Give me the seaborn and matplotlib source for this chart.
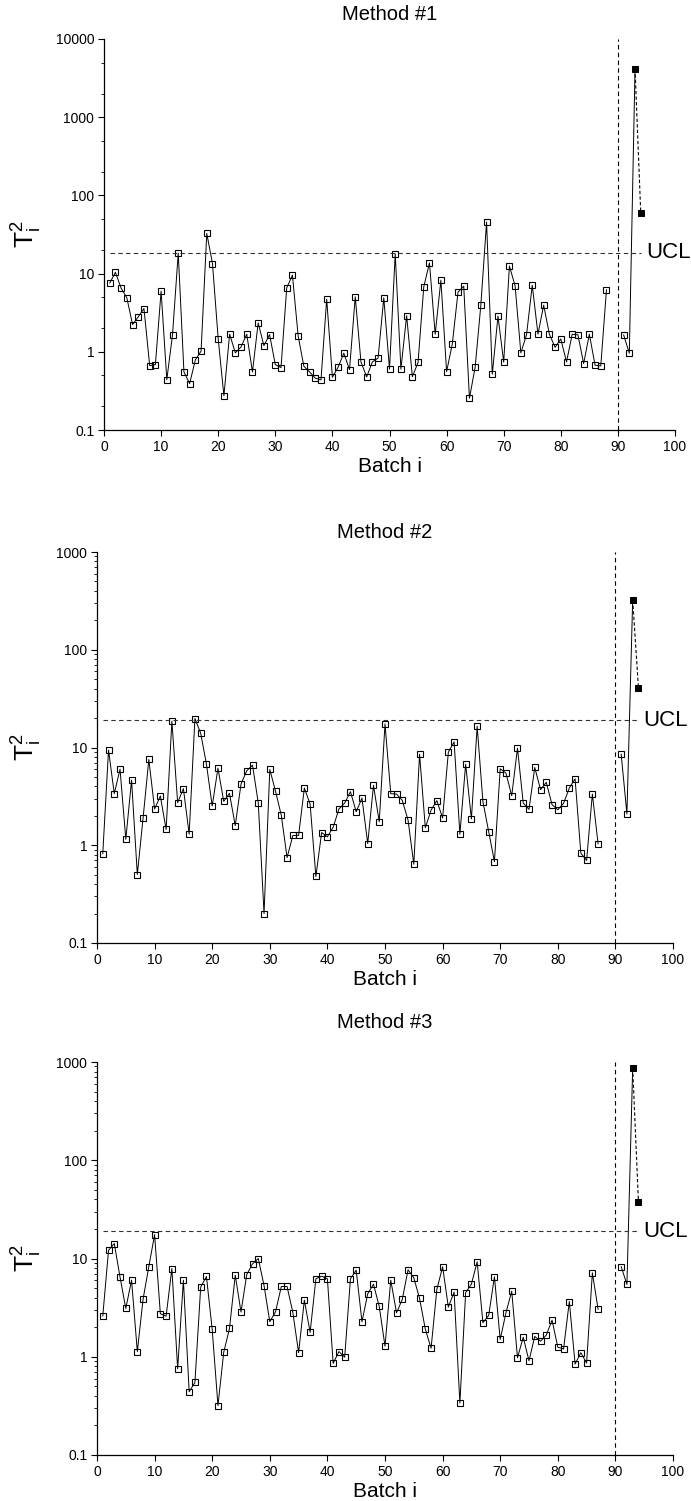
import numpy as np
import pandas as pd
import matplotlib
matplotlib.use("Agg")
import matplotlib.pyplot as plt
from matplotlib.ticker import LogLocator, FixedLocator, FixedFormatter, NullFormatter
import seaborn as sns

# ---------------- data ----------------
titles = ["Method #1", "Method #2", "Method #3"]

m1_values = [7.55, 10.4, 6.5, 4.9, 2.23, 2.8, 3.57, 0.666, 0.686, 5.97,
             0.44, 1.65, 18.3, 0.553, 0.392, 0.788, 1.02, 32.6, 13.4, 1.46,
             0.273, 1.68, 0.97, 1.155, 1.68, 0.553, 2.34, 1.2, 1.66, 0.686,
             0.628, 6.57, 9.55, 1.6, 0.654, 0.553, 0.46, 0.437, 4.71, 0.473,
             0.635, 0.96, 0.592, 5.05, 0.743, 0.477, 0.743, 0.83, 4.9, 0.6,
             17.9, 0.6, 2.9, 0.48, 0.73, 6.77, 13.7, 1.68, 8.24, 0.558,
             1.26, 5.8, 6.9, 0.255, 0.635, 3.98, 45.6, 0.517, 2.86, 0.736,
             12.5, 6.97, 0.97, 1.65, 7.1, 1.68, 3.95, 1.68, 1.14, 1.46,
             0.743, 1.68, 1.65, 0.707, 1.68, 0.673, 0.66, 6.25]
m2_values = [0.816, 9.4, 3.37, 6.0, 1.15, 4.64, 0.502, 1.9, 7.54, 2.35,
             3.19, 1.45, 18.6, 2.73, 3.79, 1.3, 19.8, 14.0, 6.76, 2.52,
             6.15, 2.81, 3.39, 1.59, 4.22, 5.78, 6.6, 2.7, 0.2, 5.96,
             3.56, 2.02, 0.748, 1.26, 1.26, 3.85, 2.64, 0.479, 1.35, 1.22,
             1.53, 2.35, 2.7, 3.53, 2.2, 3.04, 1.04, 4.1, 1.74, 17.4,
             3.37, 3.34, 2.88, 1.81, 0.64, 8.55, 1.51, 2.29, 2.86, 1.9,
             8.96, 11.4, 1.3, 6.76, 1.86, 16.5, 2.79, 1.38, 0.68, 6.06,
             5.47, 3.21, 9.84, 2.7, 2.33, 6.25, 3.7, 4.4, 2.6, 2.31,
             2.68, 3.85, 4.79, 0.83, 0.70, 3.34, 1.03]
m3_values = [2.59, 12.1, 14.2, 6.46, 3.1, 6.02, 1.13, 3.86, 8.29, 17.5,
             2.74, 2.59, 7.91, 0.755, 6.02, 0.44, 0.548, 5.11, 6.56, 1.9,
             0.318, 1.11, 1.94, 6.77, 2.85, 6.87, 8.83, 10.0, 5.31, 2.27,
             2.87, 5.19, 5.19, 2.82, 1.1, 3.77, 1.77, 6.21, 6.61, 6.21,
             0.855, 1.13, 0.99, 6.21, 7.61, 2.27, 4.37, 5.48, 3.25, 1.28,
             6.02, 2.8, 3.83, 7.67, 6.36, 3.92, 1.91, 1.22, 4.84, 8.23,
             3.2, 4.55, 0.338, 4.5, 5.48, 9.25, 2.22, 2.63, 6.51, 1.5,
             2.8, 4.65, 0.977, 1.58, 0.91, 1.61, 1.44, 1.66, 2.36, 1.25,
             1.2, 3.65, 0.842, 1.1, 0.86, 7.15, 3.03]

post_batches = [91, 92]
m1_post = [1.65, 0.96]
m2_post = [8.55, 2.09]
m3_post = [8.29, 5.44]

fault_batches = [93, 94]
m1_fault = [4170, 60]
m2_fault = [322, 41]
m3_fault = [869, 37.7]

ucl_values = [18.5, 19.0, 19.0]
fault_start = 90
y_max = [10000, 1000, 1000]
x_ticks = list(range(0, 101, 10))

values_all = [m1_values, m2_values, m3_values]
post_all = [m1_post, m2_post, m3_post]
fault_all = [m1_fault, m2_fault, m3_fault]

# ---------------- style ----------------
sns.set_style("ticks")
plt.rcParams["font.family"] = ["Liberation Sans", "DejaVu Sans"]
plt.rcParams["mathtext.fontset"] = "custom"
plt.rcParams["mathtext.rm"] = "Liberation Sans"
plt.rcParams["mathtext.it"] = "Liberation Sans"
for key in ["text.color", "axes.labelcolor", "xtick.color", "ytick.color"]:
    plt.rcParams[key] = "black"

W, H = 691, 1501
fig = plt.figure(figsize=(W / 100, H / 100), dpi=100)

# axes boxes in pixels: left, top, right, bottom ; title centre in pixels
boxes = [(104, 39, 675, 430), (97, 552, 673, 943), (97, 1062, 673, 1455)]
title_px = [14, 532, 1022]

for i in range(3):
    l, t, r, b = boxes[i]
    ax = fig.add_axes([l / W, 1 - b / H, (r - l) / W, (b - t) / H])
    vals = values_all[i]
    df = pd.DataFrame({"batch": np.arange(1, len(vals) + 1), "T2": vals})

    lw = 0.7
    # in-control batches
    sns.lineplot(data=df, x="batch", y="T2", ax=ax, color="black", lw=lw,
                 marker="s", markersize=4.2, markerfacecolor="none",
                 markeredgecolor="black", markeredgewidth=0.8)
    # new batches after the vertical line
    seg = pd.DataFrame({"batch": post_batches + [fault_batches[0]],
                        "T2": post_all[i] + [fault_all[i][0]]})
    sns.lineplot(data=seg, x="batch", y="T2", ax=ax, color="black", lw=lw)
    sns.lineplot(x=post_batches, y=post_all[i], ax=ax, color="black", lw=0,
                 marker="s", markersize=4.2, markerfacecolor="none",
                 markeredgecolor="black", markeredgewidth=0.8)
    sns.lineplot(x=fault_batches, y=fault_all[i], ax=ax, color="black", lw=0.8,
                 linestyle=(0, (3, 2)))
    sns.lineplot(x=fault_batches, y=fault_all[i], ax=ax, color="black", lw=0,
                 marker="s", markersize=4.5, markerfacecolor="black",
                 markeredgecolor="black")

    # UCL
    ucl = ucl_values[i]
    sns.lineplot(x=[1, fault_batches[-1]], y=[ucl, ucl], ax=ax, color="#333333",
                 lw=0.8, linestyle=(0, (4, 3)))
    ax.text(fault_batches[-1] + 0.9, ucl, "UCL", fontsize=16, va="center", ha="left")
    ax.axvline(fault_start, color="black", lw=0.8, linestyle=(0, (4, 3)))

    ax.set_yscale("log")
    ax.set_ylim(0.1, y_max[i])
    ax.set_xlim(0, 100)
    majors = [10.0 ** k for k in range(-1, int(np.log10(y_max[i])) + 1)]
    ax.yaxis.set_major_locator(FixedLocator(majors))
    ax.yaxis.set_major_formatter(FixedFormatter([("%g" % v) for v in majors]))
    if i == 0:
        ax.yaxis.set_minor_locator(LogLocator(base=10, subs=(2.0, 5.0)))
    else:
        ax.yaxis.set_minor_locator(LogLocator(base=10, subs=np.arange(2, 10)))
    ax.yaxis.set_minor_formatter(NullFormatter())
    ax.set_xticks(x_ticks)

    ax.tick_params(axis="both", which="major", direction="out", length=4,
                   width=0.8, labelsize=10, pad=3)
    ax.tick_params(axis="y", which="minor", direction="out", length=2.5, width=0.6)
    for sp in ["left", "bottom"]:
        ax.spines[sp].set_linewidth(0.9)
        ax.spines[sp].set_color("black")
    sns.despine(ax=ax)

    ax.set_title(titles[i], fontsize=14.5, pad=0, va="center",
                 y=(b - title_px[i]) / (b - t))
    ax.set_xlabel("Batch i", fontsize=15)
    ax.set_ylabel(r"$\mathrm{T}_\mathrm{i}^2$", fontsize=19, rotation=90)
    ax.xaxis.set_label_coords(0.5, -27 / (b - t))
    ax.yaxis.set_label_coords(-(l - 44) / (r - l), 0.5)

fig.savefig("out.png", dpi=100)
